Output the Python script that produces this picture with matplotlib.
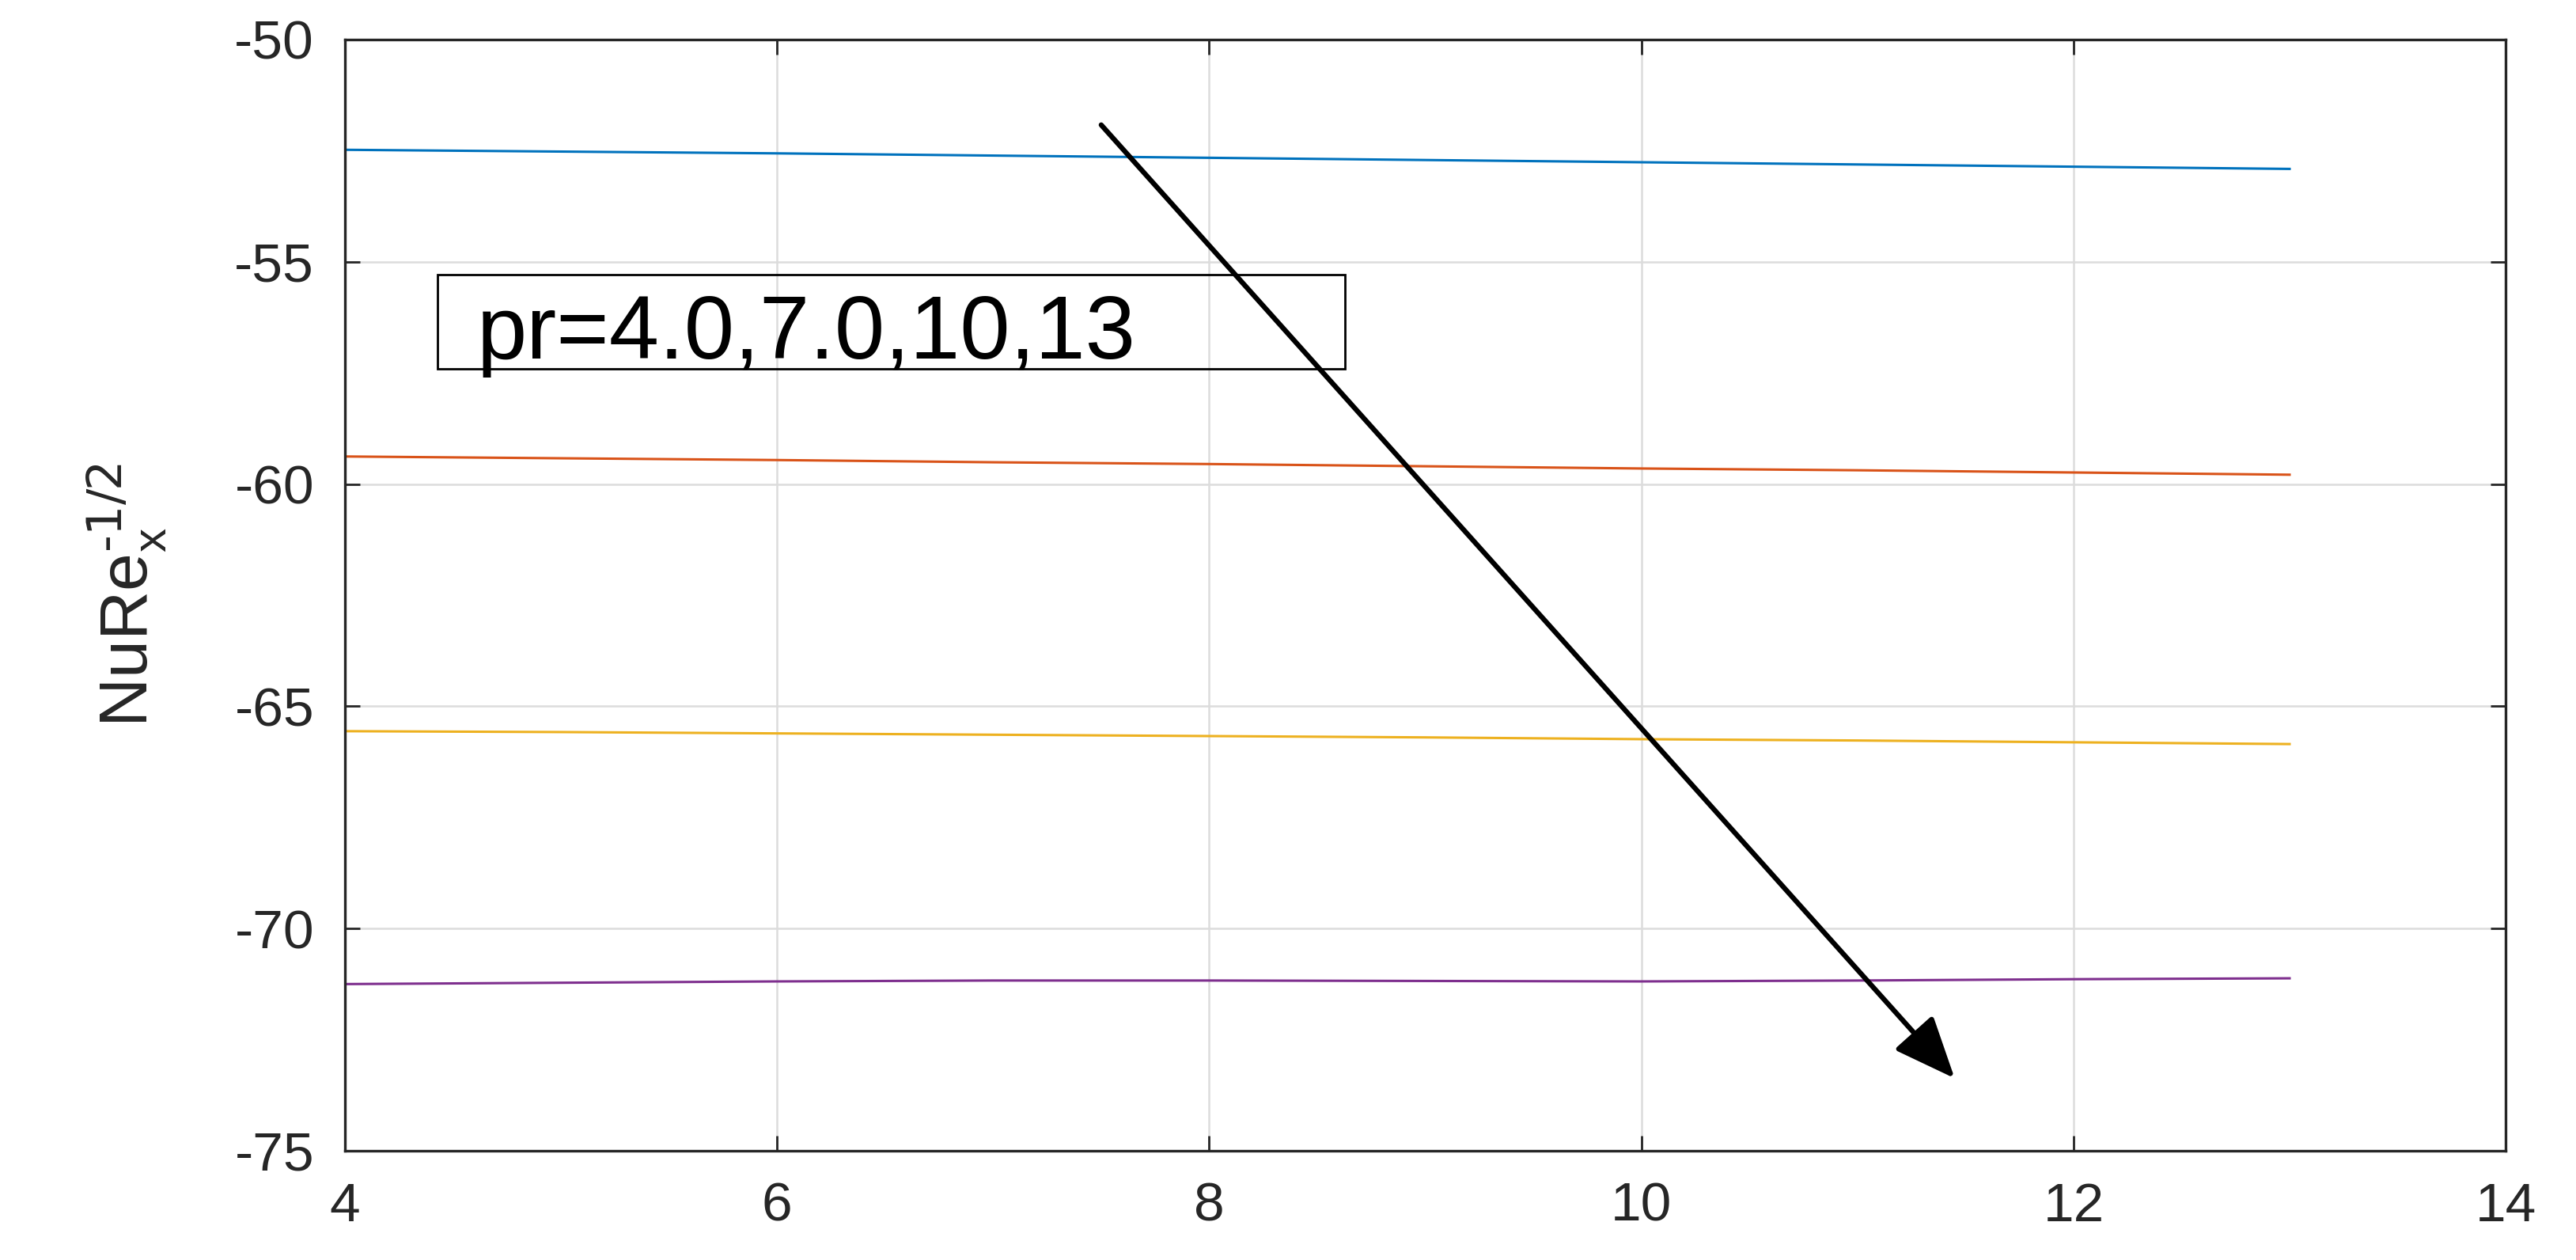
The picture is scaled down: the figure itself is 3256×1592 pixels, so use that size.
import matplotlib
matplotlib.use("Agg")
from matplotlib import pyplot as plt

plt.rcParams['font.family'] = ['Liberation Sans', 'DejaVu Sans']
plt.rcParams['axes.unicode_minus'] = False

# data
x = [4, 5, 6, 7, 8, 9, 10, 11, 12, 13]
nu_pr4 = [-52.48, -52.52, -52.56, -52.61, -52.66, -52.71, -52.76, -52.81, -52.86, -52.91]
nu_pr7 = [-59.38, -59.42, -59.46, -59.51, -59.55, -59.60, -59.65, -59.69, -59.74, -59.79]
nu_pr10 = [-65.56, -65.58, -65.61, -65.64, -65.67, -65.70, -65.74, -65.77, -65.81, -65.85]
nu_pr13 = [-71.25, -71.22, -71.19, -71.17, -71.17, -71.18, -71.19, -71.17, -71.14, -71.12]

xticks = [4, 6, 8, 10, 12, 14]
yticks = [-75, -70, -65, -60, -55, -50]

fig = plt.figure(figsize=(16.28, 7.96), dpi=200)
ax = fig.add_axes([0.1339, 0.0867, 0.8388, 0.8819])

ax.plot(x, nu_pr4, color='#0072BD', lw=1.1)
ax.plot(x, nu_pr7, color='#D95319', lw=1.1)
ax.plot(x, nu_pr10, color='#EDB120', lw=1.1)
ax.plot(x, nu_pr13, color='#7E2F8E', lw=1.1)

ax.set_xlim(4, 14)
ax.set_ylim(-75, -50)
ax.set_xticks(xticks)
ax.set_yticks(yticks)
ax.grid(True, color='#dcdcdc', lw=0.9)
ax.set_axisbelow(True)

ax.tick_params(direction='in', length=7, width=1.0, labelsize=25, colors='#262626',
               top=True, right=True, pad=14)
for s in ax.spines.values():
    s.set_color('#262626')
    s.set_linewidth(1.2)

ax.set_ylabel(r'NuRe$_{\mathregular{x}}^{\text{-1/2}}$', fontsize=31,
              color='#262626', labelpad=30)

# arrow
ax.annotate('', xy=(11.45, -73.37), xytext=(7.5, -51.92),
            arrowprops=dict(arrowstyle='-|>,head_length=1.0,head_width=0.42',
                            mutation_scale=24, color='black', lw=2.3,
                            shrinkA=0, shrinkB=0))

# text box
ax.add_patch(plt.Rectangle((4.43, -57.41), 8.63 - 4.43, 2.12, fill=False,
                           edgecolor='black', lw=1.0, zorder=3))
ax.text(4.61, -57.18, 'pr=4.0,7.0,10,13', fontsize=41, va='baseline', ha='left',
        color='black', zorder=4)

fig.savefig('out.png', dpi=200)
